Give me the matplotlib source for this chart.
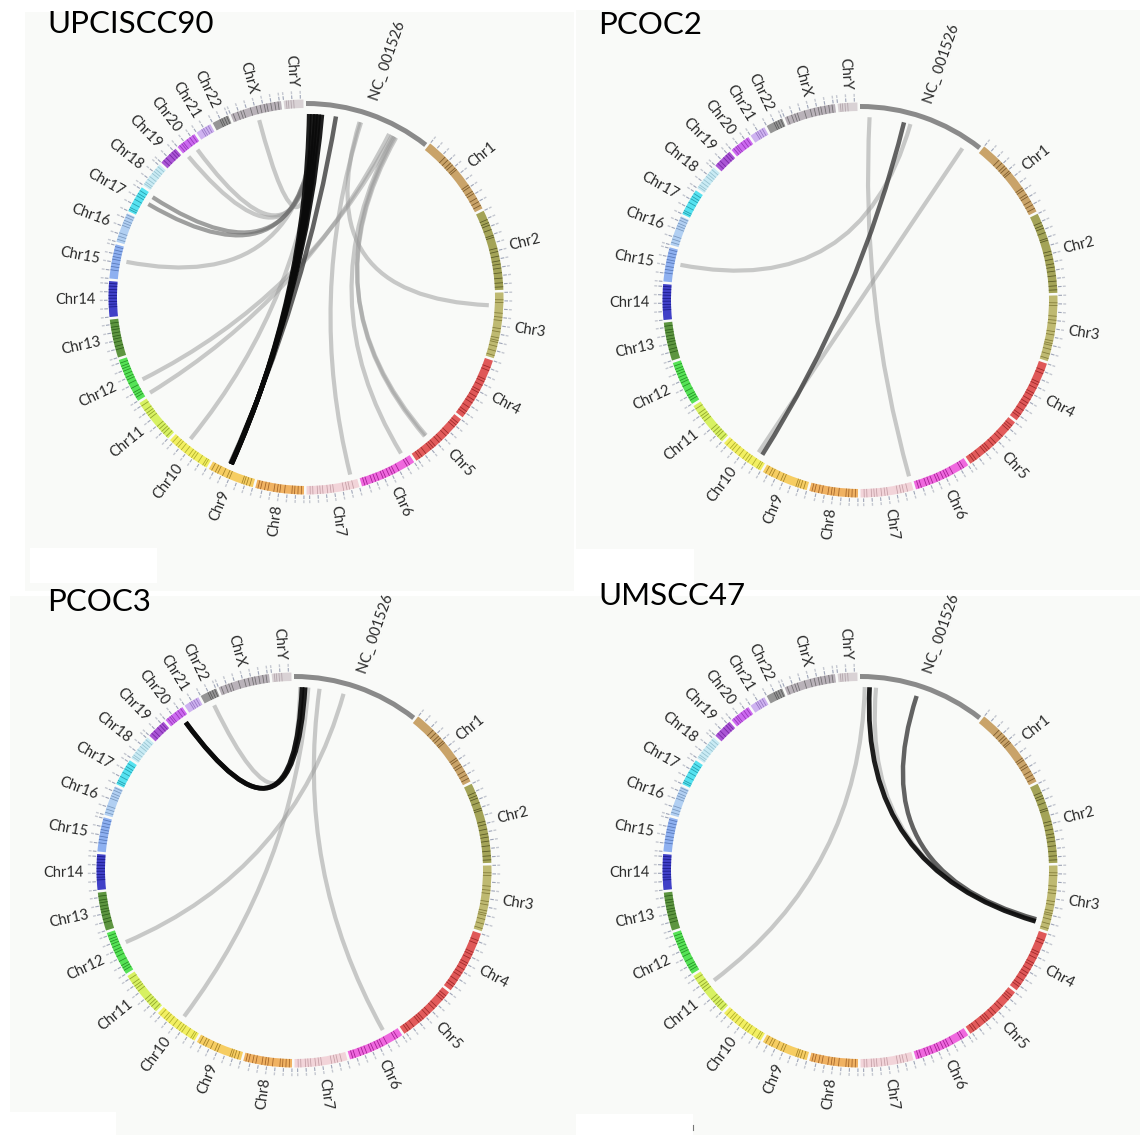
import numpy as np
import matplotlib
matplotlib.use("Agg")
import matplotlib.pyplot as plt
from matplotlib.path import Path
from matplotlib.patches import PathPatch, Wedge, Rectangle

W, H, DPI = 1140, 1135, 100

# ---------------------------------------------------------------- genome layout
CHROMS = ['chr1', 'chr2', 'chr3', 'chr4', 'chr5', 'chr6', 'chr7', 'chr8', 'chr9',
          'chr10', 'chr11', 'chr12', 'chr13', 'chr14', 'chr15', 'chr16', 'chr17',
          'chr18', 'chr19', 'chr20', 'chr21', 'chr22', 'chrX', 'chrY']
CHROM_LABELS = ['Chr1', 'Chr2', 'Chr3', 'Chr4', 'Chr5', 'Chr6', 'Chr7', 'Chr8', 'Chr9',
                'Chr10', 'Chr11', 'Chr12', 'Chr13', 'Chr14', 'Chr15', 'Chr16', 'Chr17',
                'Chr18', 'Chr19', 'Chr20', 'Chr21', 'Chr22', 'ChrX', 'ChrY']
CHROM_MB = [249, 243, 198, 191, 181, 171, 159, 146, 141, 136, 135, 134, 115, 107,
            103, 90, 81, 78, 59, 63, 48, 51, 155, 59]
CHROM_COLORS = ['#c49a5a', '#9a9a45', '#b8b262', '#dd4646', '#e04a4a', '#ee58dc',
                '#f2d0d6', '#f0aa52', '#f6c852', '#f2ee52', '#d4f052', '#44e044',
                '#4c8a2c', '#2c2cc2', '#82a8f0', '#aacbf2', '#44e0f0', '#c4eaf4',
                '#a244d2', '#c85af0', '#caaaf0', '#8a8a8a', '#b2aab2', '#d6ced2']
BAND_COLORS = ['#5a3a10', '#3a3a10', '#6a6222', '#801212', '#801616', '#800070',
               '#b08890', '#804210', '#806210', '#909012', '#708012', '#107010',
               '#1a4a0a', '#0a0a70', '#4060a0', '#6080a8', '#108090', '#80b0c0',
               '#601090', '#8020a0', '#8060b0', '#404040', '#505050', '#a09098']
# dark cytoband centres (Mb)
CHROM_BANDS_MB = {
    'chr1': [60, 72, 84, 92, 104, 110, 168, 175, 190, 198, 214, 226, 238],
    'chr2': [28, 38, 46, 60, 78, 84, 118, 128, 142, 156, 166, 178, 192, 208, 222, 234],
    'chr3': [22, 30, 62, 74, 84, 108, 118, 136, 144, 150, 162, 176, 190],
    'chr4': [22, 32, 60, 68, 80, 96, 104, 118, 130, 140, 156, 170, 178],
    'chr5': [14, 22, 30, 56, 66, 84, 94, 110, 118, 126, 146, 160, 168],
    'chr6': [16, 24, 52, 66, 74, 84, 96, 104, 118, 128, 138, 154, 162],
    'chr7': [18, 30, 38, 48, 78, 86, 96, 110, 118, 126, 140, 148],
    'chr8': [8, 18, 28, 36, 58, 72, 80, 90, 108, 118, 130, 138],
    'chr9': [10, 20, 28, 34, 74, 82, 96, 112, 120, 132],
    'chr10': [8, 14, 30, 46, 54, 64, 78, 92, 104, 112, 126],
    'chr11': [8, 20, 28, 38, 48, 80, 90, 98, 108, 124],
    'chr12': [12, 20, 28, 42, 58, 70, 78, 88, 98, 106, 114, 124],
    'chr13': [24, 34, 46, 56, 64, 74, 84, 92, 104],
    'chr14': [30, 38, 46, 56, 64, 74, 82, 92, 100],
    'chr15': [26, 36, 46, 58, 66, 76, 86, 96],
    'chr16': [8, 18, 28, 52, 60, 68, 78, 86],
    'chr17': [6, 12, 26, 40, 52, 60, 70],
    'chr18': [6, 12, 22, 32, 44, 52, 60, 70],
    'chr19': [10, 20, 34, 44, 52],
    'chr20': [8, 16, 22, 36, 46, 56],
    'chr21': [18, 24, 32, 40],
    'chr22': [24, 30, 38, 46],
    'chrX': [8, 22, 32, 40, 62, 80, 92, 104, 112, 124, 136, 146],
    'chrY': [8, 14, 22, 30],
}
NC_NAME = 'NC_001526'
NC_BP = 7906
NC_DISPLAY_MB = 390      # the viral genome is drawn enlarged
NC_COLOR = '#8a8a8a'

# ---------------------------------------------------------------- links
# each link: position on NC_001526 (bp) -> chromosome, position (Mb), tone
UPCI_NC_BP = [210, 420, 620, 830, 1030, 1950, 620, 720, 620, 620, 620, 620, 830,
              5590, 5800, 3520, 3620, 5900, 6000, 6100]
UPCI_CHROM = ['chr9', 'chr9', 'chr9', 'chr9', 'chr9', 'chr9', 'chr17', 'chr17',
              'chr20', 'chr20', 'chr15', 'chrX', 'chr10', 'chr12', 'chr12', 'chr3',
              'chr7', 'chr6', 'chr5', 'chr5']
UPCI_MB = [85, 85.5, 86, 86.5, 87, 90, 48, 74, 43, 7, 58, 78, 91, 2, 51, 40,
           18, 20, 110, 115]
UPCI_TONE = ['black', 'black', 'black', 'black', 'black', 'dark', 'mid', 'mid',
             'light', 'light', 'light', 'light', 'light', 'light', 'light', 'light',
             'light', 'light', 'light', 'light']

PCOC2_NC_BP = [2880, 3310, 7040, 620]
PCOC2_CHROM = ['chr10', 'chr15', 'chr10', 'chr7']
PCOC2_MB = [21, 58, 35, 2]
PCOC2_TONE = ['dark', 'light', 'light', 'light']

PCOC3_NC_BP = [520, 720, 410, 930, 1660, 3250]
PCOC3_CHROM = ['chr20', 'chr20', 'chr22', 'chr10', 'chr6', 'chr12']
PCOC3_MB = [44, 44.5, 24, 68, 43, 87]
PCOC3_TONE = ['black', 'black', 'light', 'light', 'light', 'light']

UMSCC47_NC_BP = [620, 3730, 1040, 310]
UMSCC47_CHROM = ['chr3', 'chr3', 'chr3', 'chr11']
UMSCC47_MB = [180, 173, 177, 88]
UMSCC47_TONE = ['black', 'dark', 'light', 'light']

PANEL_TITLES = ['UPCISCC90', 'PCOC2', 'PCOC3', 'UMSCC47']

TONES = {
    'black': dict(color='#0a0a0a', alpha=0.92, lw=3.4),
    'dark': dict(color='#3c3c3c', alpha=0.80, lw=3.2),
    'mid': dict(color='#6e6e6e', alpha=0.65, lw=3.0),
    'light': dict(color='#9a9a9a', alpha=0.52, lw=3.0),
}

# ---------------------------------------------------------------- geometry
GAP_DEG = 0.75
R_IN, R_OUT = 189.0, 197.5
R_NC_IN, R_NC_OUT = 191.0, 196.0
R_LINK = 183.0
R_LABEL = 208.0

seg_names = [NC_NAME] + CHROMS
seg_sizes = [NC_DISPLAY_MB] + CHROM_MB
deg_per_mb = (360.0 - GAP_DEG * len(seg_sizes)) / sum(seg_sizes)
seg_start = {}
a = 0.0
for name, size in zip(seg_names, seg_sizes):
    seg_start[name] = a
    a += size * deg_per_mb + GAP_DEG


def theta(name, mb):
    """clockwise angle from 12 o'clock"""
    return seg_start[name] + mb * deg_per_mb


def nc_theta(bp):
    return theta(NC_NAME, bp / NC_BP * NC_DISPLAY_MB)


def xy(r, th):
    t = np.deg2rad(th)
    return r * np.sin(t), r * np.cos(t)


def arc(ax, r_in, r_out, th0, th1, color, alpha=1.0, z=2):
    ax.add_patch(Wedge((0, 0), r_out, 90 - th1, 90 - th0, width=r_out - r_in,
                       facecolor=color, edgecolor='none', alpha=alpha, zorder=z))


def draw_panel(ax, nc_bp, chroms, mbs, tones):
    ax.set_xlim(-265, 265)
    ax.set_ylim(-265, 265)
    ax.set_aspect('equal')
    ax.axis('off')

    # viral genome
    th0 = theta(NC_NAME, 0)
    th1 = theta(NC_NAME, NC_DISPLAY_MB)
    arc(ax, R_NC_IN, R_NC_OUT, th0, th1, NC_COLOR)
    tm = (th0 + th1) / 2
    x, y = xy(R_LABEL, tm)
    ax.text(x, y, NC_NAME.replace('_', '_ '), rotation=90 - tm, rotation_mode='anchor',
            ha='left', va='center', fontsize=10.5, color='#2a2a2a', family='Lato')

    # chromosomes
    for i, c in enumerate(CHROMS):
        t0 = theta(c, 0)
        t1 = theta(c, CHROM_MB[i])
        arc(ax, R_IN, R_OUT, t0, t1, CHROM_COLORS[i], alpha=0.9)
        for b in CHROM_BANDS_MB[c]:
            if b < CHROM_MB[i]:
                arc(ax, R_IN, R_OUT, theta(c, b - 1.2), theta(c, min(b + 1.2, CHROM_MB[i])),
                    BAND_COLORS[i], alpha=0.7, z=3)
        # ticks every 25 Mb
        for m in np.arange(0, CHROM_MB[i] + 0.1, 25):
            tt = theta(c, m)
            x0, y0 = xy(R_OUT + 1.5, tt)
            x1, y1 = xy(R_OUT + 4.0, tt)
            ax.plot([x0, x1], [y0, y1], color='#8890a8', lw=0.8, alpha=0.8, zorder=2)
            x2, y2 = xy(R_OUT + 6.5, tt)
            x3, y3 = xy(R_OUT + 8.0, tt)
            ax.plot([x2, x3], [y2, y3], color='#b0b4c0', lw=1.0, alpha=0.7, zorder=2)
        tm = (t0 + t1) / 2
        x, y = xy(R_LABEL + 2, tm)
        if tm < 180:
            rot, ha = 90 - tm, 'left'
        else:
            rot, ha = 270 - tm, 'right'
        ax.text(x, y, CHROM_LABELS[i], rotation=rot, rotation_mode='anchor',
                ha=ha, va='center', fontsize=10.5, color='#2a2a2a', family='Lato')

    # links: quadratic Bezier through the centre
    order = {'light': 0, 'mid': 1, 'dark': 2, 'black': 3}
    idx = sorted(range(len(nc_bp)), key=lambda k: order[tones[k]])
    for k in idx:
        p0 = xy(R_LINK, nc_theta(nc_bp[k]))
        p2 = xy(R_LINK, theta(chroms[k], mbs[k]))
        path = Path([p0, (0, 0), p2], [Path.MOVETO, Path.CURVE3, Path.CURVE3])
        st = TONES[tones[k]]
        ax.add_patch(PathPatch(path, fill=False, edgecolor=st['color'], alpha=st['alpha'],
                               lw=st['lw'], capstyle='butt', zorder=4 + order[tones[k]]))


fig = plt.figure(figsize=(W / DPI, H / DPI), dpi=DPI)
fig.patch.set_facecolor('white')

# background layer in pixel coordinates
bg = fig.add_axes([0, 0, 1, 1])
bg.set_xlim(0, W)
bg.set_ylim(H, 0)
bg.axis('off')
PANEL_BG = '#f9faf8'
for (x0, y0, x1, y1) in [(25, 12, 574, 591), (576, 10, 1140, 590),
                         (10, 596, 576, 1135), (576, 596, 1140, 1135)]:
    bg.add_patch(Rectangle((x0, y0), x1 - x0, y1 - y0, facecolor=PANEL_BG, edgecolor='none'))
for (x0, y0, x1, y1) in [(30, 548, 157, 583), (576, 549, 694, 590),
                         (10, 1112, 116, 1135), (576, 1114, 693, 1135)]:
    bg.add_patch(Rectangle((x0, y0), x1 - x0, y1 - y0, facecolor='white', edgecolor='none'))
bg.plot([693, 693], [1125, 1130], color='#777777', lw=0.8)

centers = [(306, 297), (860, 300), (294, 870), (860, 870)]
title_pos = [(47, 33), (598, 34), (47, 611), (598, 605)]
data = [
    (UPCI_NC_BP, UPCI_CHROM, UPCI_MB, UPCI_TONE),
    (PCOC2_NC_BP, PCOC2_CHROM, PCOC2_MB, PCOC2_TONE),
    (PCOC3_NC_BP, PCOC3_CHROM, PCOC3_MB, PCOC3_TONE),
    (UMSCC47_NC_BP, UMSCC47_CHROM, UMSCC47_MB, UMSCC47_TONE),
]
HALF = 265
for (cx, cy), (tx, ty), title, d in zip(centers, title_pos, PANEL_TITLES, data):
    ax = fig.add_axes([(cx - HALF) / W, (H - cy - HALF) / H, 2 * HALF / W, 2 * HALF / H])
    ax.patch.set_alpha(0)
    draw_panel(ax, *d)
    fig.text(tx / W, 1 - ty / H, title, fontsize=22.5, family='Lato',
             color='black', ha='left', va='baseline')

fig.savefig('out.png', dpi=DPI, facecolor='white')
